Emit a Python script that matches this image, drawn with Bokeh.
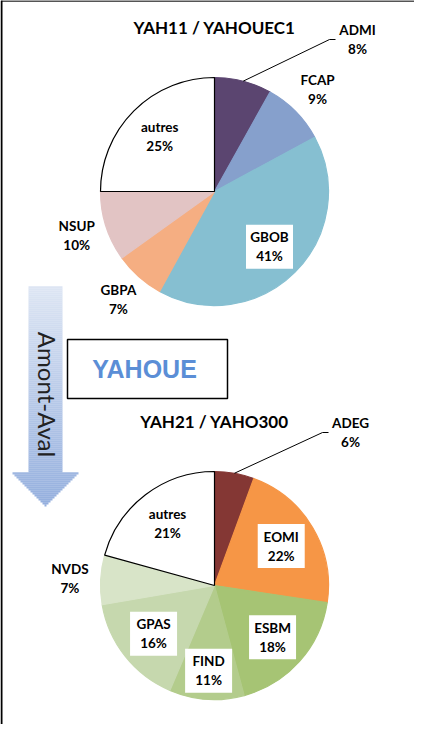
import numpy as np
from bokeh.plotting import figure
from bokeh.models import Range1d
from bokeh.core.properties import value
from bokeh.embed import file_html
from bokeh.resources import INLINE

# ---------------- data ----------------
top_title = "YAH11 / YAHOUEC1"
top_cats = ["ADMI", "FCAP", "GBOB", "GBPA", "NSUP", "autres"]
top_vals = [8.1, 9.0, 40.9, 7.1, 9.9, 25.0]
top_colors = ["#5B4570", "#86A0CC", "#86BFD1", "#F5AE82", "#E2C4C4", "#FFFFFF"]
top_modes = ["leader", "out", "box", "out", "out", "in"]

bot_title = "YAH21 / YAHO300"
bot_cats = ["ADEG", "EOMI", "ESBM", "FIND", "GPAS", "NVDS", "autres"]
bot_vals = [5.6, 21.8, 18.4, 10.6, 15.9, 7.0, 20.7]
bot_colors = ["#843734", "#F69646", "#A6C474", "#B3CC8C", "#C6D8AE", "#D8E4C8", "#FFFFFF"]
bot_modes = ["leader", "box", "box", "box", "box", "out", "in"]

center_label = "YAHOUE"
arrow_label = "Amont-Aval"

# ---------------- layout ----------------
W, H = 414, 724
R = 114
FONT = value("Lato")

p = figure(width=W, height=H, output_backend="svg", toolbar_location=None,
           x_range=Range1d(0, W), y_range=Range1d(0, H), min_border=0)
p.axis.visible = False
p.grid.visible = False
p.outline_line_color = None
p.background_fill_color = "white"

# frame (top + left edges visible)
p.line([0.5, W], [H - 0.5, H - 0.5], line_color="#555555", line_width=2)
p.line([1, 1], [0, H], line_color="black", line_width=2)


def draw_pie(cx, cy, title, cats, vals, colors, modes, leader_off):
    vals = np.array(vals, dtype=float)
    frac = vals / vals.sum()
    cum = np.concatenate([[0], np.cumsum(frac)])
    start = np.pi / 2 - 2 * np.pi * cum[:-1]
    end = np.pi / 2 - 2 * np.pi * cum[1:]
    mid = (start + end) / 2
    line_cols = ["#000000" if c.upper() == "#FFFFFF" else c for c in colors]
    p.wedge(x=cx, y=cy, radius=R, start_angle=start, end_angle=end,
            direction="clock", fill_color=colors, line_color=line_cols,
            line_width=1.2)
    p.text(x=[cx], y=[cy + 164], text=[title], text_font=FONT,
           text_font_style="bold", text_font_size="17px",
           text_align="center", text_baseline="middle", text_color="black")
    pct = [f"{round(v):d}%" for v in vals]
    for i, cat in enumerate(cats):
        m = modes[i]
        if m in ("box", "in"):
            # slices near the bottom get pushed a little further out
            r = 0.68 * R + 8 * max(0.0, -np.sin(mid[i])) ** 8
            lx, ly = cx + r * np.cos(mid[i]), cy + r * np.sin(mid[i])
        elif m == "out":
            r = 1.27 * R
            lx, ly = cx + r * np.cos(mid[i]), cy + r * np.sin(mid[i])
        else:
            lx, ly = cx + leader_off[0], cy + leader_off[1]
            ex, ey = cx + R * np.cos(mid[i]), cy + R * np.sin(mid[i])
            p.line([ex, lx - 28, lx - 22], [ey, ly, ly],
                   line_color="black", line_width=1)
        if m == "box":
            p.rect(x=[lx], y=[ly], width=47, height=44, fill_color="white",
                   line_color=None)
        p.text(x=[lx, lx], y=[ly + 9.5, ly - 9.5], text=[cat, pct[i]],
               text_font=FONT, text_font_style="bold", text_font_size="13.5px",
               text_align="center", text_baseline="middle", text_color="black")


draw_pie(214, 533, top_title, top_cats, top_vals, top_colors, top_modes, (143, 152))
draw_pie(214, 139, bot_title, bot_cats, bot_vals, bot_colors, bot_modes, (136, 153))

# gradient arrow (shaft + head)
x_sl, x_sr = 28, 62          # shaft
x_hl, x_hr, x_tip = 11, 79, 45  # head base and tip
y_top, y_base, y_end = 438, 252, 218
c0 = np.array([222, 230, 244])
c1 = np.array([148, 175, 222])
edges = np.arange(y_top, y_end - 1, -2.0)
lefts, rights, tops, bottoms, cols = [], [], [], [], []
for k in range(len(edges) - 1):
    yt, yb = edges[k], edges[k + 1]
    ym = (yt + yb) / 2
    if ym >= y_base:
        l, r = x_sl, x_sr
    else:
        f = (ym - y_end) / (y_base - y_end)
        l = x_tip - (x_tip - x_hl) * f
        r = x_tip + (x_hr - x_tip) * f
    t = (y_top - ym) / (y_top - y_end)
    c = (c0 + (c1 - c0) * t).astype(int)
    lefts.append(l); rights.append(r); tops.append(yt + 0.3); bottoms.append(yb)
    cols.append("#%02x%02x%02x" % tuple(c))
p.quad(left=lefts, right=rights, top=tops, bottom=bottoms, fill_color=cols,
       line_color=None)
p.text(x=[47], y=[330], text=[arrow_label], angle=-np.pi / 2, text_font=FONT,
       text_font_size="24px", text_align="center", text_baseline="middle",
       text_color="#222222")

# YAHOUE box
p.quad(left=[67], right=[227], top=[385], bottom=[326], fill_color="white",
       line_color="black", line_width=1.5)
p.text(x=[144], y=[356], text=[center_label], text_font=value("Liberation Sans"),
       text_font_style="bold", text_font_size="25px", text_align="center",
       text_baseline="middle", text_color="#5B8ED6")

open("out.html", "w").write(file_html(p, INLINE))
